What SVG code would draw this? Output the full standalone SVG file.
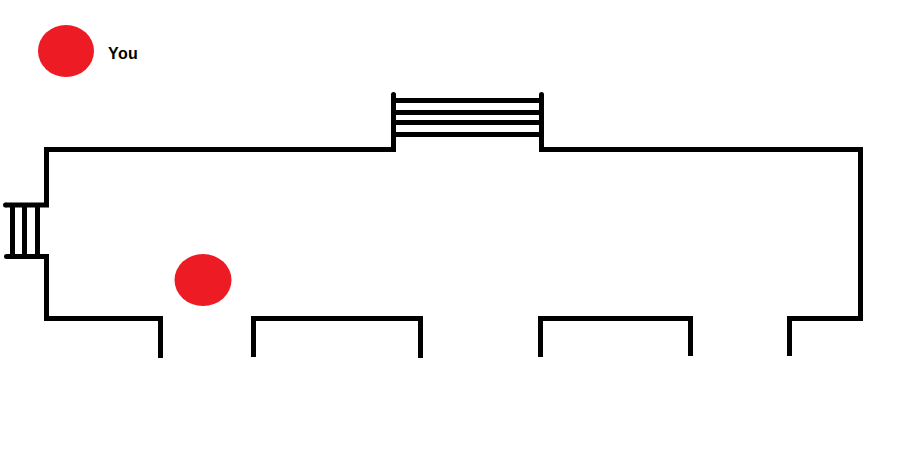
<svg xmlns="http://www.w3.org/2000/svg" width="920" height="468" viewBox="0 0 920 468">
<style>
.w{fill:none;stroke:#000;stroke-width:5;stroke-linejoin:miter;stroke-linecap:butt}
.c{fill:#000}
.r{fill:#ed1c24}
.t{font-family:"Liberation Sans",Arial,sans-serif;font-weight:700;font-size:16px;letter-spacing:.4px;fill:#000}
</style>
<rect width="920" height="468" fill="#fff"/>
<g id="legend">
<ellipse class="r" cx="66" cy="51" rx="28" ry="26"/>
<text class="t" x="108" y="59">You</text>
</g>
<g id="walls">
<path class="w" d="M393.500 94.500V149.500H46.500V205H5.500M6.500 256.500H46.500V318.500H160.500V358"/>
<path class="w" d="M541.500 94.500V149.500H860.500V318.500H789.500V356"/>
<path class="w" d="M253.500 357V318.500H420.500V358"/>
<path class="w" d="M540.500 357V318.500H690.500V356"/>
<circle class="c" cx="393.500" cy="94.500" r="2.500"/>
<circle class="c" cx="541.500" cy="94.500" r="2.500"/>
<circle class="c" cx="5.500" cy="205" r="2.500"/>
<circle class="c" cx="6.500" cy="256.500" r="2.500"/>
</g>
<g id="stairs-top">
<path class="w" d="M393.500 100.500H541.500M393.500 112.500H541.500M393.500 122.500H541.500M393.500 134.500H541.500"/>
</g>
<g id="stairs-left">
<path class="w" d="M12.500 205V256.500M24.500 205V256.500M37.500 205V256.500"/>
</g>
<g id="person">
<ellipse class="r" cx="203" cy="280" rx="28.500" ry="26"/>
</g>
</svg>
